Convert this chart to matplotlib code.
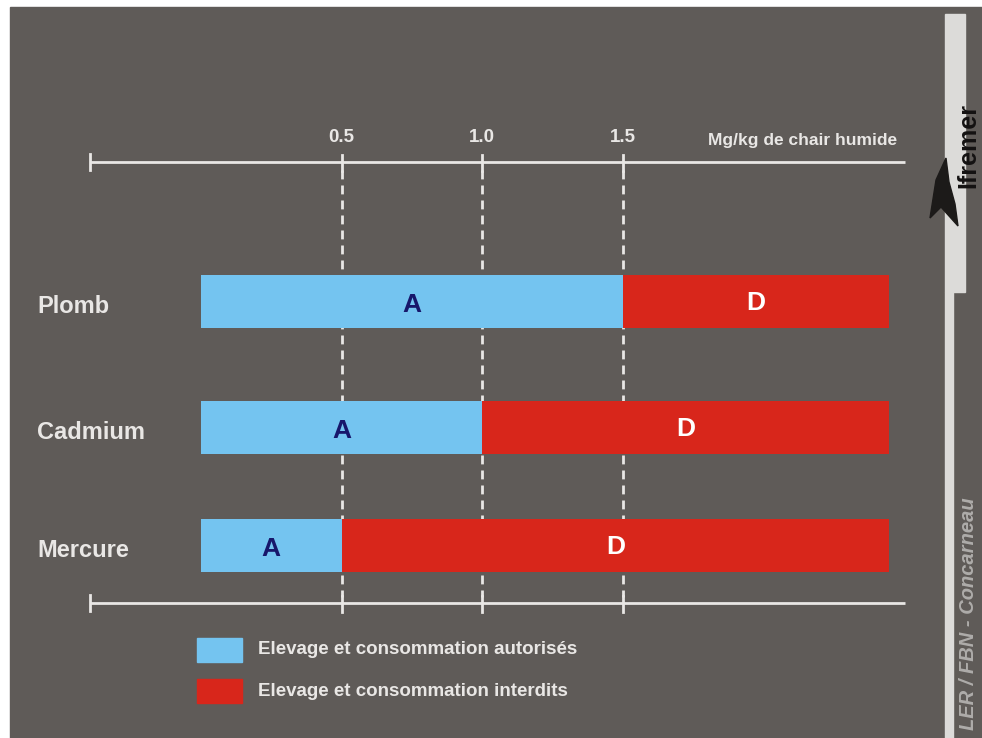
import matplotlib.pyplot as plt
from matplotlib.patches import Rectangle, Polygon

plt.rcParams['font.family'] = ['Liberation Sans', 'DejaVu Sans']

# Seuils réglementaires (mg/kg de chair humide)
metaux = ['Plomb', 'Cadmium', 'Mercure']
seuils = [1.5, 1.0, 0.5]
fin_echelle = 2.45
graduations = [0.5, 1.0, 1.5]
etiquettes_grad = ['0.5', '1.0', '1.5']
unite = 'Mg/kg de chair humide'
legende = ['Elevage et consommation autorisés', 'Elevage et consommation interdits']

fond = '#5f5b58'
bleu = '#74c4f0'
rouge = '#d8261b'
texte = '#e9e7e5'
marine = '#17176b'

W, H = 982, 738
fig = plt.figure(figsize=(W / 100, H / 100), dpi=100)
fig.patch.set_facecolor('white')

# panneau gris
fig.add_artist(Rectangle((10 / W, 0), 1 - 10 / W, 1 - 7 / H,
                         transform=fig.transFigure, color=fond, zorder=0))

ax = fig.add_axes([0, 0, 1, 1])
ax.set_facecolor('none')
# x en mg/kg, y en lignes de pixels
x0, ech = 201, 281.0
ax.set_xlim(-x0 / ech, (W - x0) / ech)
ax.set_ylim(H, 0)
ax.axis('off')

y_barres = [301.5, 427.5, 545.5]
haut = 53

# barres autorisé / interdit
ax.barh(y_barres, seuils, left=0, height=haut, color=bleu, zorder=3)
ax.barh(y_barres, [fin_echelle - s for s in seuils], left=seuils, height=haut,
        color=rouge, zorder=3)

for nom, y, s in zip(metaux, y_barres, seuils):
    ax.text(-0.584, y + 5, nom, color=texte, fontsize=17, fontweight='bold',
            ha='left', va='center')
    ax.text(s / 2, y + 3, 'A', color=marine, fontsize=19, fontweight='bold',
            ha='center', va='center', zorder=4)
    ax.text((s + fin_echelle) / 2, y + 2, 'D', color='white', fontsize=19,
            fontweight='bold', ha='center', va='center', zorder=4)

# axes haut et bas
g, d = -0.395, 2.505
for ya in (162, 603):
    ax.plot([g, d], [ya, ya], color=texte, lw=2, solid_capstyle='butt', zorder=2)
    ax.plot([g, g], [ya - 8, ya + 8], color=texte, lw=2, zorder=2)
    for v in graduations:
        ax.plot([v, v], [ya - 7, ya + 9], color=texte, lw=2, zorder=2)

for v, lab in zip(graduations, etiquettes_grad):
    ax.plot([v, v], [170, 597], color=texte, lw=2, ls=(0, (3.2, 2.2)), zorder=1)
    ax.text(v, 137, lab, color=texte, fontsize=13.5, fontweight='bold',
            ha='center', va='center')

ax.text(1.804, 140, unite, color=texte, fontsize=12.5, fontweight='bold',
        ha='left', va='center')

# légende
for i, (lab, c) in enumerate(zip(legende, [bleu, rouge])):
    yl = 650 + 41 * i
    fig.add_artist(Rectangle((197 / W, 1 - (yl + 12) / H), 45 / W, 24 / H,
                             transform=fig.transFigure, color=c, zorder=3))
    fig.text(258 / W, 1 - yl / H, lab, color=texte, fontsize=13.5,
             fontweight='bold', ha='left', va='center')

# bandeau Ifremer à droite
bande = '#dcdbd9'
fig.add_artist(Rectangle((945 / W, 1 - 292 / H), 20 / W, 278 / H,
                         transform=fig.transFigure, color=bande, zorder=2))
fig.add_artist(Rectangle((945 / W, 0), 8 / W, 1 - 292 / H,
                         transform=fig.transFigure, color=bande, zorder=2))
logo = [(946, 158), (936, 180), (930, 218), (941, 207), (958, 226),
        (955, 204), (949, 182)]
fig.add_artist(Polygon([(x / W, 1 - y / H) for x, y in logo], closed=True,
                       transform=fig.transFigure, color='#1c1a19', zorder=3))
fig.text(968 / W, 1 - 145 / H, 'Ifremer', color='#141212', fontsize=18,
         fontweight='bold', rotation=90, ha='center', va='center', zorder=4)
fig.text(969 / W, 1 - 614 / H, 'LER / FBN - Concarneau', color='#aeacaa',
         fontsize=14.5, fontweight='bold', fontstyle='italic', rotation=90,
         ha='center', va='center', zorder=4)

fig.savefig('out.png', dpi=100, facecolor=fig.get_facecolor())
